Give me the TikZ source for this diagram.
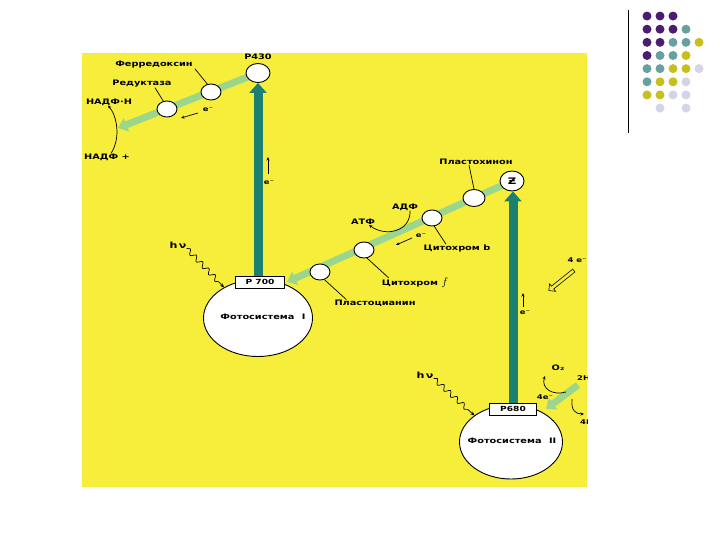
\documentclass[tikz,border=0pt]{standalone}
\usepackage{fontspec}
\setmainfont{DejaVu Sans}[FakeStretch=1.3]
\usetikzlibrary{arrows.meta,shapes.geometric,shapes.arrows,decorations.pathmorphing}
\definecolor{bgyellow}{RGB}{246,238,58}
\definecolor{darkteal}{RGB}{28,128,112}
\definecolor{lgreen}{RGB}{155,214,140}
\definecolor{dpurple}{RGB}{78,28,110}
\definecolor{dteal}{RGB}{104,160,160}
\definecolor{dyellow}{RGB}{200,190,30}
\definecolor{dlav}{RGB}{212,212,232}
\pgfdeclarelayer{back}
\pgfdeclarelayer{mid}
\pgfsetlayers{back,mid,main}
\begin{document}
\begin{tikzpicture}[x=1pt,y=-1pt,
 lbl/.style={font=\bfseries\fontsize{7.5}{8}\selectfont, inner sep=0pt},
 elab/.style={font=\bfseries\fontsize{6.5}{7}\selectfont, inner sep=0pt},
 hvlab/.style={font=\bfseries\fontsize{8.5}{9}\selectfont, inner sep=0pt},
 carrier/.style={ellipse, draw, line width=0.9pt, fill=white, minimum width=20pt, minimum height=16pt, inner sep=0pt},
 pbox/.style={rectangle, draw, line width=0.8pt, fill=white, minimum width=49pt, minimum height=12pt, inner sep=0pt, font=\bfseries\fontsize{7}{8}\selectfont},
 psys/.style={ellipse, draw, line width=0.9pt, fill=white, inner sep=0pt},
 lgarrow/.style={line width=7pt, lgreen, -{Triangle[width=14pt,length=9pt]}},
 dkarrow/.style={line width=9pt, darkteal, -{Triangle[width=17pt,length=10pt]}},
 leader/.style={line width=0.7pt},
 earrow/.style={line width=0.7pt, -{Stealth[length=3.5pt,width=3pt]}},
 wave/.style={line width=0.7pt, decorate, decoration={snake, amplitude=2.4pt, segment length=9pt, post length=5pt}, -{Stealth[length=4pt,width=3.5pt]}},
 dot/.style={circle, inner sep=0pt, minimum size=9pt}
]
\useasboundingbox (0,0) rectangle (720,540);
\begin{pgfonlayer}{back}
\fill[white] (0,0) rectangle (720,540);
\fill[bgyellow] (82,53) rectangle (587,487);
\end{pgfonlayer}

% decorative dots
\foreach \c/\r/\col in {1/1/dpurple,2/1/dpurple,3/1/dpurple,
  1/2/dpurple,2/2/dpurple,3/2/dpurple,4/2/dteal,
  1/3/dpurple,2/3/dpurple,3/3/dteal,4/3/dteal,5/3/dyellow,
  1/4/dpurple,2/4/dteal,3/4/dteal,4/4/dyellow,
  1/5/dteal,2/5/dteal,3/5/dyellow,4/5/dyellow,5/5/dlav,
  1/6/dteal,2/6/dyellow,3/6/dyellow,4/6/dlav,
  1/7/dyellow,2/7/dyellow,3/7/dlav,4/7/dlav,
  2/8/dlav,4/8/dlav}
  \node[dot, fill=\col] (d\c\r) at ({634+13*\c},{2.9+13.15*\r}) {};
\coordinate (vl1) at (628,10);
\coordinate (vl2) at (628,133);
\draw[line width=1pt] (vl1) -- (vl2);

% carriers
\node[carrier, minimum width=24pt, minimum height=19pt] (p430) at (258,73) {};
\node[carrier] (fd) at (211,92) {};
\node[carrier] (red) at (167,109) {};
\node[carrier, minimum width=24pt, minimum height=20pt, font=\bfseries\fontsize{9}{9}\selectfont] (z) at (512,181) {Ƶ};
\node[carrier, minimum width=22pt, minimum height=17pt] (pq) at (474,198) {};
\node[carrier] (cytb) at (432,218) {};
\node[carrier] (cytf) at (364,250) {};
\node[carrier] (pc) at (320,272) {};

% photosystems
\node[psys, minimum width=109pt, minimum height=77pt] (ps1) at (258,318) {};
\node[lbl] (ps1l) at (263,317) {Фотосистема\quad I};
\node[pbox] (p700) at (260,282) {P 700};
\node[psys, minimum width=103pt, minimum height=74pt] (ps2) at (511,442) {};
\node[lbl] (ps2l) at (512,441) {Фотосистема\quad II};
\node[pbox, minimum width=47pt] (p680) at (513,409) {P680};

% labels
\node[lbl] (p430l) at (258,57) {P430};
\node[lbl] (fdl) at (154,65) {Ферредоксин};
\node[lbl] (redl) at (142,84) {Редуктаза};
\node[lbl] (nadph) at (109,102) {НАДФ·Н};
\node[lbl] (nadp) at (107,157) {НАДФ +};
\node[lbl] (pql) at (476,162) {Пластохинон};
\node[lbl] (adf) at (405,207) {АДФ};
\node[lbl] (atf) at (363,222) {АТФ};
\node[lbl] (cytbl) at (457,248) {Цитохром b};
\node[lbl] (cytfl) at (415,283) {Цитохром {\fontsize{11}{11}\selectfont$f$}};
\node[lbl] (pcl) at (375,303) {Пластоцианин};
\node[hvlab] (hv1) at (178,245) {h\,ν};
\node[hvlab] (hv2) at (425,375) {h\,ν};
\node[elab] (e1) at (208,110) {e⁻};
\node[elab] (e2) at (269,183) {e⁻};
\node[elab] (e3) at (421,236) {e⁻};
\node[elab] (e4) at (525,313) {e⁻};
\node[elab] (fe1) at (577,260) {4 e⁻};
\node[lbl] (o2) at (558,368) {O₂};
\node[elab] (fe2) at (545,397) {4e⁻};
\begin{scope}
\clip (82,53) rectangle (587,487);
\node[elab, anchor=west] (h2o) at (577,378) {2H₂O};
\node[elab, anchor=west] (hplus) at (580,422) {4H⁺};
\end{scope}

% hollow arrow
\node[single arrow, draw, line width=0.6pt, fill=bgyellow, minimum height=32pt, single arrow head extend=3pt, inner sep=1.5pt, rotate=218.7] (ffa) at (562,280) {};

% coordinates
\coordinate (nadpend) at (118,128);
\coordinate (h2oarr) at (578,385);
\coordinate (ea1s) at (198,113);
\coordinate (ea1e) at (181,118);
\coordinate (ea2s) at (268,174);
\coordinate (ea2e) at (268,157);
\coordinate (ea3s) at (412,238);
\coordinate (ea3e) at (396,245);
\coordinate (ea4s) at (523,307);
\coordinate (ea4e) at (523,293);
\coordinate (oc1) at (566,392);
\coordinate (oc2) at (545,376);
\coordinate (hc1) at (572,399);
\coordinate (hc2) at (584,414);

\begin{pgfonlayer}{mid}
\draw[lgarrow] (p430.center) -- (nadpend);
\draw[lgarrow] (z.center) -- ([xshift=2pt]p700.east);
\draw[lgarrow] (h2oarr) -- ([xshift=9pt]p680.east);
\draw[dkarrow] (p430.south |- p700.north) -- (p430.south);
\draw[dkarrow] (p680.north) -- (p680.north |- z.south);
\end{pgfonlayer}

% leaders
\draw[leader] ([xshift=2pt]fdl.south east) -- (fd.115);
\draw[leader] ([xshift=13pt]redl.south) -- (red.115);
\draw[leader] ([xshift=-7pt]pql.south) -- (pq.north);
\draw[leader] (cytb.285) -- ([xshift=-11pt]cytbl.north);
\draw[leader] (cytf.290) -- ([xshift=7pt]cytfl.north west);
\draw[leader] (pc.300) -- ([xshift=12pt]pcl.north west);

% electron arrows
\draw[earrow] (ea1s) -- (ea1e);
\draw[earrow] (ea2s) -- (ea2e);
\draw[earrow] (ea3s) -- (ea3e);
\draw[earrow] (ea4s) -- (ea4e);

% curved reaction arrows
\draw[earrow] ([xshift=4pt]nadp.north) .. controls (121,138) and (117,116) .. ([xshift=-1pt]nadph.south);
\draw[earrow] ([xshift=5pt]adf.south) .. controls (411,232) and (385,237) .. ([xshift=6pt]atf.south);
\draw[earrow] (oc1) .. controls (552,396) and (541,388) .. (oc2);
\draw[earrow] (hc1) .. controls (571,410) and (575,414) .. (hc2);

% light arrows
\draw[wave] (hv1.south east) -- (ps1.138);
\draw[wave] (hv2.south east) -- (ps2.144);
\end{tikzpicture}
\end{document}
